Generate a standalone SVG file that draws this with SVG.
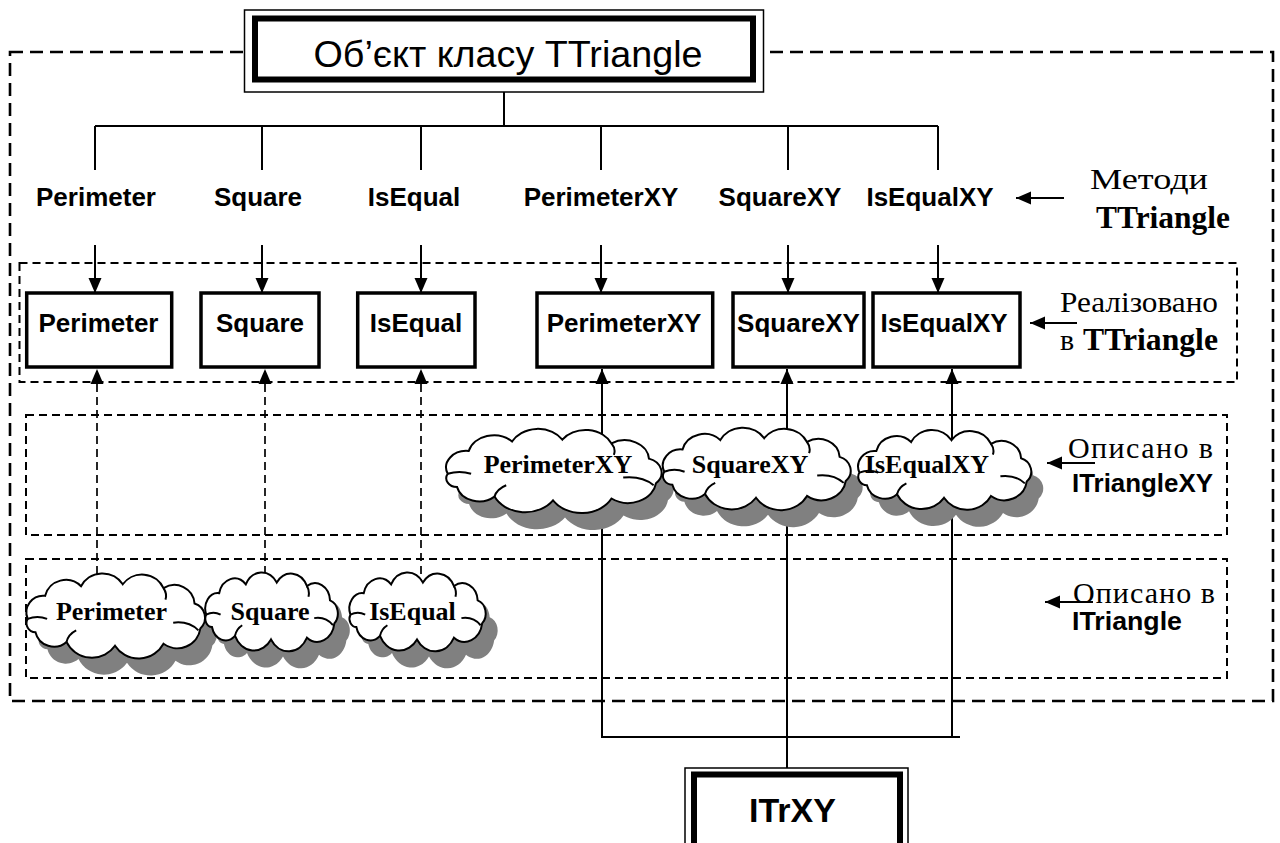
<svg xmlns="http://www.w3.org/2000/svg" xmlns:xlink="http://www.w3.org/1999/xlink" width="1280" height="843" viewBox="0 0 1280 843">
  <style>
    .line { stroke:#000; stroke-width:2; fill:none; }
    .dline { stroke:#000; stroke-width:1.7; fill:none; stroke-dasharray:8 5; }
    .frame { stroke:#000; stroke-width:2.6; fill:none; stroke-dasharray:13 7; }
    .zone { stroke:#000; stroke-width:2; fill:none; stroke-dasharray:8 5; }
    .box { fill:#fff; stroke:#000; stroke-width:3.5; }
    .lbl { font-family:"Liberation Sans", Arial, sans-serif; font-weight:bold; font-size:26px; text-anchor:middle; fill:#000; }
    .cl { font-family:"Liberation Serif", "Times New Roman", serif; font-weight:bold; font-size:26px; text-anchor:middle; fill:#000; }
    .note { font-family:"Liberation Serif", "Times New Roman", serif; font-size:30px; fill:#000; }
    .noteb { font-family:"Liberation Serif", "Times New Roman", serif; font-size:31px; font-weight:bold; fill:#000; }
    .notes { font-family:"Liberation Sans", Arial, sans-serif; font-size:26px; font-weight:bold; fill:#000; }
    .shadow { fill:#808080; stroke:none; }
    .cloud { fill:#fff; stroke:#000; stroke-width:2; }
    .hook { fill:none; stroke:#000; stroke-width:2; }
  </style>
  <defs>
    <marker id="arrow" viewBox="0 0 15 14" markerWidth="15" markerHeight="14" refX="15" refY="7" orient="auto" markerUnits="userSpaceOnUse">
      <path d="M0,0.5 L15,7 L0,13.5 Z" fill="#000" stroke="none"/>
    </marker>
    <!-- cloud outline: ten lobes around an ellipse, centred on the origin -->
    <path id="cloudShape" vector-effect="non-scaling-stroke" d="M -90 4 A 17.4 17.4 0 0 1 -72 -20 A 22 22 0 0 1 -35 -30 A 25 25 0 0 1 8 -32 A 24.5 24.5 0 0 1 50 -28 A 20.8 20.8 0 0 1 82 -12 A 15.5 15.5 0 0 1 88 14 A 24 24 0 0 1 50 30 A 29 29 0 0 1 0 32 A 29 29 0 0 1 -50 28 A 19.5 19.5 0 0 1 -82 18 A 9.4 9.4 0 0 1 -90 4 Z"/>
    <path id="cloudHooks" vector-effect="non-scaling-stroke" d="M 60 8 Q 76 6 86 16 M -90 4 Q -80 0 -70 4 M 50 -28 Q 54 -22 52 -16 M -50 28 Q -48 20 -40 16"/>
  </defs>

  <rect width="1280" height="843" fill="#fff"/>

  <!-- outer frame of the object and the three zones -->
  <rect class="frame" x="10" y="52" width="1263" height="649"/>
  <rect class="zone" x="19.5" y="263" width="1217.5" height="119"/>
  <rect class="zone" x="26" y="415" width="1201" height="120"/>
  <rect class="zone" x="26" y="559" width="1201" height="119"/>

  <g id="connectors">
    <!-- tree from the object box to the method names -->
    <path class="line" d="M504 92 V126 M95 126 H938 M95 126 V170 M262 126 V170 M421 126 V170 M601 126 V170 M788 126 V170 M938 126 V170"/>
    <!-- method names down to implementations -->
    <line class="line" x1="95" y1="245" x2="95" y2="293" marker-end="url(#arrow)"/>
    <line class="line" x1="262" y1="245" x2="262" y2="293" marker-end="url(#arrow)"/>
    <line class="line" x1="421" y1="245" x2="421" y2="293" marker-end="url(#arrow)"/>
    <line class="line" x1="601" y1="245" x2="601" y2="293" marker-end="url(#arrow)"/>
    <line class="line" x1="788" y1="245" x2="788" y2="293" marker-end="url(#arrow)"/>
    <line class="line" x1="938" y1="245" x2="938" y2="293" marker-end="url(#arrow)"/>
    <!-- ITriangle methods up to implementations -->
    <line class="dline" x1="97" y1="600" x2="97" y2="369" marker-end="url(#arrow)"/>
    <line class="dline" x1="265" y1="600" x2="265" y2="369" marker-end="url(#arrow)"/>
    <line class="dline" x1="421" y1="600" x2="421" y2="369" marker-end="url(#arrow)"/>
    <!-- ITriangleXY methods up to implementations, joined to ITrXY -->
    <line class="line" x1="602" y1="737" x2="602" y2="369" marker-end="url(#arrow)"/>
    <line class="line" x1="787" y1="770" x2="787" y2="369" marker-end="url(#arrow)"/>
    <line class="line" x1="952" y1="737" x2="952" y2="369" marker-end="url(#arrow)"/>
    <line class="line" x1="601" y1="737" x2="960" y2="737"/>
    <!-- pointers from the side notes -->
    <line class="line" x1="1064" y1="198" x2="1016" y2="198" marker-end="url(#arrow)"/>
    <line class="line" x1="1077" y1="323" x2="1030" y2="323" marker-end="url(#arrow)"/>
    <line class="line" x1="1095" y1="463" x2="1047" y2="463" marker-end="url(#arrow)"/>
    <line class="line" x1="1093" y1="602" x2="1045" y2="602" marker-end="url(#arrow)"/>
  </g>

  <!-- object box -->
  <g id="object">
    <rect x="244.5" y="10" width="519" height="82" fill="#fff" stroke="#000" stroke-width="1.5"/>
    <rect x="255" y="18.5" width="498" height="61" fill="#fff" stroke="#000" stroke-width="6"/>
    <text x="508" y="67" font-family="'Liberation Sans', Arial, sans-serif" font-size="36" text-anchor="middle" textLength="389" lengthAdjust="spacingAndGlyphs">Об’єкт класу TTriangle</text>
  </g>

  <!-- method names -->
  <g id="names">
    <text class="lbl" x="96" y="206">Perimeter</text>
    <text class="lbl" x="258" y="206">Square</text>
    <text class="lbl" x="414" y="206">IsEqual</text>
    <text class="lbl" x="601" y="206">PerimeterXY</text>
    <text class="lbl" x="780" y="206">SquareXY</text>
    <text class="lbl" x="930" y="206">IsEqualXY</text>
  </g>

  <!-- implementations -->
  <g id="impl-perimeter"><rect class="box" x="26.7" y="293" width="145" height="74"/><text class="lbl" x="98.5" y="332">Perimeter</text></g>
  <g id="impl-square"><rect class="box" x="201" y="293" width="118" height="74"/><text class="lbl" x="260" y="332">Square</text></g>
  <g id="impl-isequal"><rect class="box" x="357.7" y="293" width="117.3" height="74"/><text class="lbl" x="416" y="332">IsEqual</text></g>
  <g id="impl-perimeterxy"><rect class="box" x="537" y="293" width="175.7" height="74"/><text class="lbl" x="624" y="332">PerimeterXY</text></g>
  <g id="impl-squarexy"><rect class="box" x="733" y="293" width="131" height="74"/><text class="lbl" x="798.5" y="332">SquareXY</text></g>
  <g id="impl-isequalxy"><rect class="box" x="873" y="293" width="147" height="74"/><text class="lbl" x="944" y="332">IsEqualXY</text></g>

  <!-- ITriangleXY declarations -->
  <g id="decl-perimeterxy">
    <use xlink:href="#cloudShape" class="shadow" transform="translate(565 487) scale(1.17 0.95)"/>
    <use xlink:href="#cloudShape" class="cloud" transform="translate(553 470) scale(1.17 0.95)"/>
    <use xlink:href="#cloudHooks" class="hook" transform="translate(553 470) scale(1.17 0.95)"/>
    <text class="cl" x="558" y="473">PerimeterXY</text>
  </g>
  <g id="decl-squarexy">
    <use xlink:href="#cloudShape" class="shadow" transform="translate(768 485) scale(1.02 0.93)"/>
    <use xlink:href="#cloudShape" class="cloud" transform="translate(756 468) scale(1.02 0.93)"/>
    <use xlink:href="#cloudHooks" class="hook" transform="translate(756 468) scale(1.02 0.93)"/>
    <text class="cl" x="750" y="473">SquareXY</text>
  </g>
  <g id="decl-isequalxy">
    <use xlink:href="#cloudShape" class="shadow" transform="translate(956 486) scale(0.94 0.9)"/>
    <use xlink:href="#cloudShape" class="cloud" transform="translate(944 469) scale(0.94 0.9)"/>
    <use xlink:href="#cloudHooks" class="hook" transform="translate(944 469) scale(0.94 0.9)"/>
    <text class="cl" x="927" y="473">IsEqualXY</text>
  </g>

  <!-- ITriangle declarations -->
  <g id="decl-perimeter">
    <use xlink:href="#cloudShape" class="shadow" transform="translate(127 632) scale(0.97 0.96)"/>
    <use xlink:href="#cloudShape" class="cloud" transform="translate(115 615) scale(0.97 0.96)"/>
    <use xlink:href="#cloudHooks" class="hook" transform="translate(115 615) scale(0.97 0.96)"/>
    <text class="cl" x="111.5" y="620">Perimeter</text>
  </g>
  <g id="decl-square">
    <use xlink:href="#cloudShape" class="shadow" transform="translate(283 628) scale(0.72 0.89)"/>
    <use xlink:href="#cloudShape" class="cloud" transform="translate(271 611) scale(0.72 0.89)"/>
    <use xlink:href="#cloudHooks" class="hook" transform="translate(271 611) scale(0.72 0.89)"/>
    <text class="cl" x="270" y="620">Square</text>
  </g>
  <g id="decl-isequal">
    <use xlink:href="#cloudShape" class="shadow" transform="translate(429 628) scale(0.74 0.89)"/>
    <use xlink:href="#cloudShape" class="cloud" transform="translate(417 611) scale(0.74 0.89)"/>
    <use xlink:href="#cloudHooks" class="hook" transform="translate(417 611) scale(0.74 0.89)"/>
    <text class="cl" x="412.5" y="620">IsEqual</text>
  </g>

  <!-- interface reference -->
  <g id="itrxy">
    <rect x="685" y="768" width="223" height="100" fill="#fff" stroke="#000" stroke-width="1.5"/>
    <rect x="694" y="774.5" width="206" height="90" fill="#fff" stroke="#000" stroke-width="6"/>
    <text x="792.5" y="822" font-family="'Liberation Sans', Arial, sans-serif" font-weight="bold" font-size="34" text-anchor="middle">ITrXY</text>
  </g>

  <!-- side notes -->
  <g id="note-methods">
    <text class="note" x="1090" y="189" textLength="118" lengthAdjust="spacingAndGlyphs">Методи</text>
    <text class="noteb" x="1096" y="228" textLength="134" lengthAdjust="spacingAndGlyphs">TTriangle</text>
  </g>
  <g id="note-impl">
    <text class="note" x="1060" y="312" textLength="158" lengthAdjust="spacingAndGlyphs">Реалізовано</text>
    <text class="note" x="1060" y="350">в</text>
    <text class="noteb" x="1083" y="350" textLength="135" lengthAdjust="spacingAndGlyphs">TTriangle</text>
  </g>
  <g id="note-itrianglexy">
    <text class="note" x="1068" y="458" textLength="145" lengthAdjust="spacing">Описано в</text>
    <text class="notes" x="1072" y="492" textLength="141" lengthAdjust="spacingAndGlyphs">ITriangleXY</text>
  </g>
  <g id="note-itriangle">
    <text class="note" x="1073" y="603" textLength="142" lengthAdjust="spacing">Описано в</text>
    <text class="notes" x="1072" y="630" textLength="110" lengthAdjust="spacingAndGlyphs">ITriangle</text>
  </g>
</svg>
